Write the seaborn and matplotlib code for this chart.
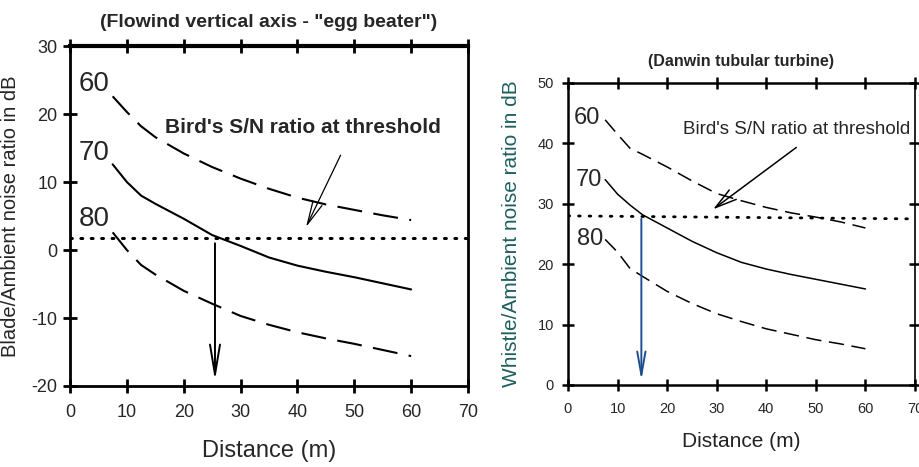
import matplotlib
matplotlib.use("Agg")
import matplotlib.pyplot as plt
import seaborn as sns
import pandas as pd
from matplotlib import font_manager

sns.set_theme(style="ticks")
names = {f.name for f in font_manager.fontManager.ttflist}
narrow = "Liberation Sans Narrow" if "Liberation Sans Narrow" in names else "Liberation Sans"
plt.rcParams['font.family'] = [narrow, 'DejaVu Sans']
plt.rcParams['axes.unicode_minus'] = False

# ---------------- data ----------------
distance = [7.5, 10, 12.5, 15, 20, 25, 30, 35, 40, 45, 50, 55, 60]

left_60 = [22.6, 20.3, 18.2, 16.6, 14.2, 12.2, 10.5, 9.0, 7.7, 6.7, 5.9, 5.1, 4.4]
left_70 = [12.6, 10.0, 8.0, 6.8, 4.6, 2.2, 0.6, -1.1, -2.3, -3.2, -4.0, -4.9, -5.8]
left_80 = [2.6, 0.0, -2.2, -3.6, -6.0, -7.9, -9.7, -11.0, -12.1, -13.0, -13.8, -14.7, -15.6]
left_threshold_x = [0, 70]
left_threshold_y = [1.8, 1.8]
left_cross_x = 25.5

right_60 = [43.9, 41.5, 39.2, 38.2, 36.1, 33.8, 31.7, 30.5, 29.4, 28.5, 27.8, 27.0, 26.0]
right_70 = [34.0, 31.6, 29.8, 28.2, 26.0, 23.8, 21.9, 20.3, 19.2, 18.3, 17.5, 16.7, 15.9]
right_80 = [24.1, 22.0, 19.3, 18.0, 15.5, 13.5, 11.8, 10.5, 9.3, 8.4, 7.5, 6.8, 6.0]
right_threshold_x = [0, 70]
right_threshold_y = [28.0, 27.5]
right_cross_x = 14.8

curve_labels = ["60", "70", "80"]
top_ticks = [10, 20, 30, 40, 50, 60]
right_ticks = [10, 20, 30, 40]

fig = plt.figure(figsize=(9.19, 4.67), dpi=100)
axL = fig.add_axes([70/919, 1-386/467, (468-70)/919, (386-46)/467])
axR = fig.add_axes([568/919, 1-385/467, (915-568)/919, (385-83)/467])

# ---------------- left panel ----------------
dfL = pd.DataFrame({"d": distance * 3,
                    "v": left_60 + left_70 + left_80,
                    "s": ["60"] * 13 + ["70"] * 13 + ["80"] * 13})
styles_L = {"60": (0, (12, 5.5)), "70": "-", "80": (0, (12, 5.5))}
for s in curve_labels:
    sub = dfL[dfL.s == s]
    sns.lineplot(data=sub, x="d", y="v", ax=axL, color="black", lw=1.5,
                 linestyle=styles_L[s], estimator=None, sort=False)
sns.lineplot(x=left_threshold_x, y=left_threshold_y, ax=axL, color="black",
             lw=2.2, linestyle=(0, (0.6, 2.8)), dash_capstyle="round",
             estimator=None, sort=False)
axL.annotate("", xy=(left_cross_x, -19.6), xytext=(left_cross_x, 1.4),
             arrowprops=dict(arrowstyle="->,head_length=1.8,head_width=0.3",
                             color="black", lw=1.4))
axL.annotate("", xy=(41.3, 3.0), xytext=(47.8, 14.3),
             arrowprops=dict(arrowstyle="->,head_length=1.4,head_width=0.3",
                             color="black", lw=0.9))
axL.text(41, 18.0, "Bird's S/N ratio at threshold", ha="center", va="center",
         fontsize=15, fontweight="bold")
for lab, yv in zip(curve_labels, [24.4, 14.3, 4.5]):
    axL.text(4.2, yv, lab, ha="center", va="center", fontsize=20)

axL.set_xlim(0, 70)
axL.set_ylim(-20, 30)
axL.set_xticks(range(0, 71, 10))
axL.set_yticks(range(-20, 31, 10))
axL.tick_params(axis="both", direction="inout", length=10, width=2,
                labelsize=13, color="black", pad=4, bottom=True, left=True,
                right=False)
axL.tick_params(axis="x", pad=8, top=True)
for sp in axL.spines.values():
    sp.set_color("black")
    sp.set_linewidth(2)
axL.spines["top"].set_linewidth(3)
axL.set_xlabel("Distance (m)", fontsize=17, labelpad=14)
axL.set_ylabel("Blade/Ambient noise ratio in dB", fontsize=14.5, labelpad=8)
axL.set_title("(Flowind vertical axis - \"egg beater\")", fontsize=14,
              fontweight="bold", pad=14)

# ---------------- right panel ----------------
dfR = pd.DataFrame({"d": distance * 3,
                    "v": right_60 + right_70 + right_80,
                    "s": ["60"] * 13 + ["70"] * 13 + ["80"] * 13})
styles_R = {"60": (0, (10, 5)), "70": "-", "80": (0, (10, 5))}
for s in curve_labels:
    sub = dfR[dfR.s == s]
    sns.lineplot(data=sub, x="d", y="v", ax=axR, color="black", lw=1.1,
                 linestyle=styles_R[s], estimator=None, sort=False)
sns.lineplot(x=right_threshold_x, y=right_threshold_y, ax=axR, color="black",
             lw=2.0, linestyle=(0, (0.6, 3.2)), dash_capstyle="round",
             estimator=None, sort=False)
axR.annotate("", xy=(right_cross_x, 0.3), xytext=(right_cross_x, 28.0),
             arrowprops=dict(arrowstyle="->,head_length=1.4,head_width=0.25",
                             color="#1d4f8f", lw=1.4))
axR.annotate("", xy=(28.8, 28.8), xytext=(46.5, 39.6),
             arrowprops=dict(arrowstyle="->,head_length=1.3,head_width=0.35",
                             color="black", lw=1.1))
axR.text(46.2, 42.3, "Bird's S/N ratio at threshold", ha="center", va="center",
         fontsize=13.5)
for lab, yv, xv in zip(curve_labels, [44.2, 34.0, 24.1], [3.9, 4.3, 4.5]):
    axR.text(xv, yv, lab, ha="center", va="center", fontsize=17)

axR.set_xlim(0, 70)
axR.set_ylim(0, 50)
axR.set_xticks(range(0, 71, 10))
axR.set_yticks(range(0, 51, 10))
axR.tick_params(axis="both", direction="inout", length=8, width=1.8,
                labelsize=10.5, color="black", bottom=True, left=True)
axR.tick_params(axis="x", pad=8, top=True)
axR.tick_params(axis="y", pad=6, right=True)
for sp in axR.spines.values():
    sp.set_color("black")
    sp.set_linewidth(1.8)
axR.spines["right"].set_linewidth(1.2)
axR.set_xlabel("Distance (m)", fontsize=15, labelpad=12, color="#222222")
axR.set_ylabel("Whistle/Ambient noise ratio in dB", fontsize=15, labelpad=12,
               color="#1f5f5f")
axR.set_title("(Danwin tubular turbine)", fontsize=11.5, fontweight="bold",
              pad=12)

fig.savefig("out.png", dpi=100)
